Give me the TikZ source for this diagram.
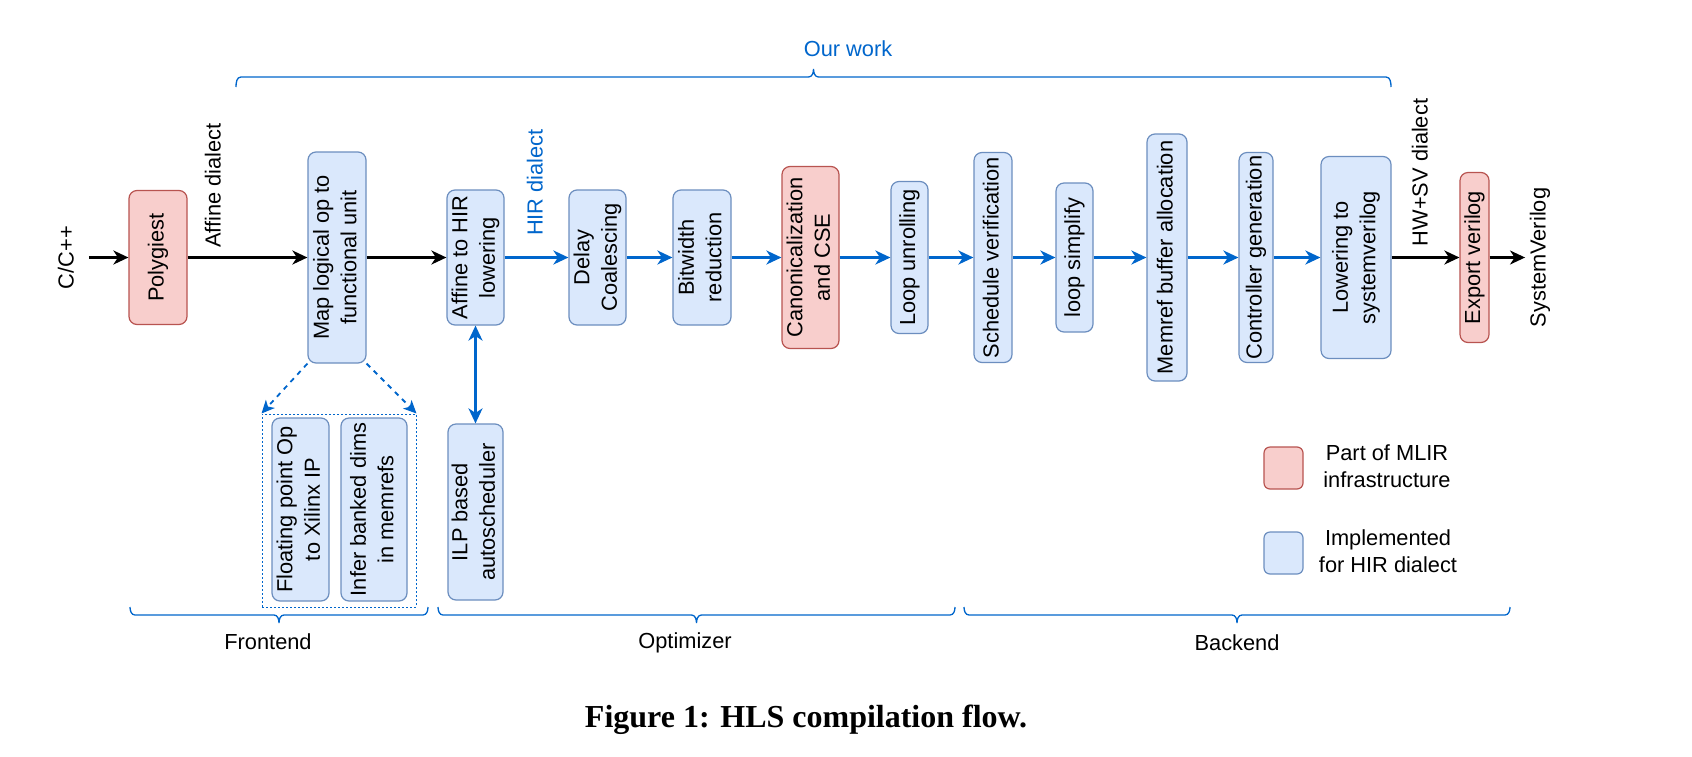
\documentclass[tikz,border=0pt]{standalone}
\usepackage{fontspec}
\setmainfont{Liberation Sans}
\newfontfamily\capfont{Liberation Serif}
\usepackage{graphicx}
\usetikzlibrary{arrows.meta}
\definecolor{hirblue}{HTML}{0066CC}
\definecolor{bfill}{HTML}{DAE8FC}
\definecolor{bstroke}{HTML}{6C8EBF}
\definecolor{rfill}{HTML}{F8CECC}
\definecolor{rstroke}{HTML}{B85450}
\newcommand{\vt}[1]{\rotatebox{90}{\begin{tabular}{@{}c@{}}#1\end{tabular}}}
\newcommand{\bbr}[2]{%
  \pgfmathsetmacro\bxa{#1+5}%
  \pgfmathsetmacro\bxm{(#1+#2)/2}%
  \pgfmathsetmacro\bxml{\bxm-5}%
  \pgfmathsetmacro\bxmr{\bxm+5}%
  \pgfmathsetmacro\bxb{#2-5}%
  \draw[brace] (#1,-607) to[out=-90,in=180] (\bxa,-615) -- (\bxml,-615)
    to[out=0,in=90] (\bxm,-623) to[out=90,in=180] (\bxmr,-615)
    -- (\bxb,-615) to[out=0,in=-90] (#2,-607);}
\tikzset{
  txt/.style={font=\fontsize{21.8}{27.5}\selectfont, inner sep=0pt},
  box/.style={txt, draw=bstroke, fill=bfill, rounded corners=8pt, line width=1.2pt},
  rbox/.style={box, draw=rstroke, fill=rfill},
  sz/.style 2 args={minimum width=#1pt, minimum height=#2pt},
  >={Stealth[length=15pt,width=14pt,inset=4.5pt]},
  blkarrow/.style={draw=black, line width=2.2pt, ->},
  bluearrow/.style={draw=hirblue, line width=2.2pt, ->},
  dasharrow/.style={draw=hirblue, line width=1.8pt, dash pattern=on 5pt off 5pt,
     -{Stealth[length=13pt,width=12pt,inset=3.5pt]}},
  dotbox/.style={draw=hirblue, line width=1pt, dash pattern=on 2pt off 2pt},
  brace/.style={draw=hirblue, line width=1.3pt},
}
\begin{document}
\begin{tikzpicture}[x=1pt,y=1pt]
\fill[white] (0,0) rectangle (1692,-756);
\useasboundingbox (0,0) rectangle (1692,-756);

% main row
\node[txt, inner sep=7pt] (cin) at (68,-257.5) {\vt{C/C++}};
\node[rbox, sz={58}{134}] (poly) at (158,-257.5) {\vt{Polygiest}};
\node[box, sz={58}{211}] (map) at (337,-257.5) {\vt{Map logical op to\\functional unit}};
\node[box, sz={57}{135}] (aff) at (475.5,-257.5) {\vt{Affine to HIR\\lowering}};
\node[box, sz={57}{135}] (delay) at (597.5,-257.5) {\vt{Delay\\Coalescing}};
\node[box, sz={58}{135}] (bit) at (702,-257.5) {\vt{Bitwidth\\reduction}};
\node[rbox, sz={57}{182}] (canon) at (810.5,-257.5) {\vt{Canonicalization\\and CSE}};
\node[box, sz={37}{152}] (unroll) at (909.5,-257.5) {\vt{Loop unrolling}};
\node[box, sz={38}{210}] (sched) at (993,-257.5) {\vt{Schedule verification}};
\node[box, sz={37}{149}] (simp) at (1074.5,-257.5) {\vt{loop simplify}};
\node[box, sz={40}{247}] (memref) at (1167,-257.5) {\vt{Memref buffer allocation}};
\node[box, sz={34}{210}] (ctrl) at (1256,-257.5) {\vt{Controller generation}};
\node[box, sz={70}{202}] (lower) at (1356,-257.5) {\vt{Lowering to\\systemverilog}};
\node[rbox, sz={29}{170}] (export) at (1474.5,-257.5) {\vt{Export verilog}};
\node[txt, inner sep=1pt] (sv) at (1540,-257.5) {\vt{SystemVerilog}};

% dialect labels
\node[txt] (afflbl) at (215,-185.5) {\vt{Affine dialect}};
\node[txt, text=hirblue] (hirlbl) at (537,-182.5) {\vt{HIR dialect}};
\node[txt] (hwlbl) at (1422,-172.5) {\vt{HW+SV dialect}};

% lower group
\node[dotbox, sz={154}{193}] (grp) at (339,-510.5) {};
\node[box, sz={57}{183}] (fp) at (300.5,-509.5) {\vt{Floating point Op\\to Xilinx IP}};
\node[box, sz={66}{183}] (infer) at (374,-509.5) {\vt{Infer banked dims\\in memrefs}};
\node[box, sz={55}{176}] (ilp) at (475.5,-512) {\vt{ILP based\\autoscheduler}};

% legend
\node[rbox, sz={39}{42}, rounded corners=6pt] (lgr) at (1283.5,-468) {};
\node[txt, align=center] (lgrt) at (1387,-466) {Part of MLIR\\infrastructure};
\node[box, sz={39}{42}, rounded corners=6pt] (lgb) at (1283.5,-553) {};
\node[txt, align=center] (lgbt) at (1388,-551) {Implemented\\for HIR dialect};

% connectors
\draw[blkarrow] (cin) -- (poly);
\draw[blkarrow] (poly) -- (map);
\draw[blkarrow] (map) -- (aff);
\draw[bluearrow] (aff) -- (delay);
\draw[bluearrow] (delay) -- (bit);
\draw[bluearrow] (bit) -- (canon);
\draw[bluearrow] (canon) -- (unroll);
\draw[bluearrow] (unroll) -- (sched);
\draw[bluearrow] (sched) -- (simp);
\draw[bluearrow] (simp) -- (memref);
\draw[bluearrow] (memref) -- (ctrl);
\draw[bluearrow] (ctrl) -- (lower);
\draw[blkarrow] (lower) -- (export);
\draw[blkarrow] (export) -- (sv);
\draw[bluearrow, <->] (aff) -- (ilp);
\draw[dasharrow] (map.south west) -- (grp.north west);
\draw[dasharrow] (map.south east) -- (grp.north east);

% braces
\draw[brace] (236,-87) to[out=90,in=180] (241,-77) -- (808.5,-77)
  to[out=0,in=-90] (813.5,-69) to[out=-90,in=180] (818.5,-77)
  -- (1386,-77) to[out=0,in=90] (1391,-87);
\node[txt, text=hirblue] (ow) at (848,-49) {Our work};
\bbr{130}{428}
\bbr{438}{955}
\bbr{964}{1510}
\node[txt] (fe) at (268,-642) {Frontend};
\node[txt] (op) at (685,-643) {Optimizer};
\node[txt] (be) at (1237,-643) {Backend};

% caption
\node[font=\capfont\bfseries\fontsize{32}{38}\selectfont, anchor=base, inner sep=0pt] (cap) at (806,-727) {Figure 1: HLS compilation flow.};
\end{tikzpicture}
\end{document}
